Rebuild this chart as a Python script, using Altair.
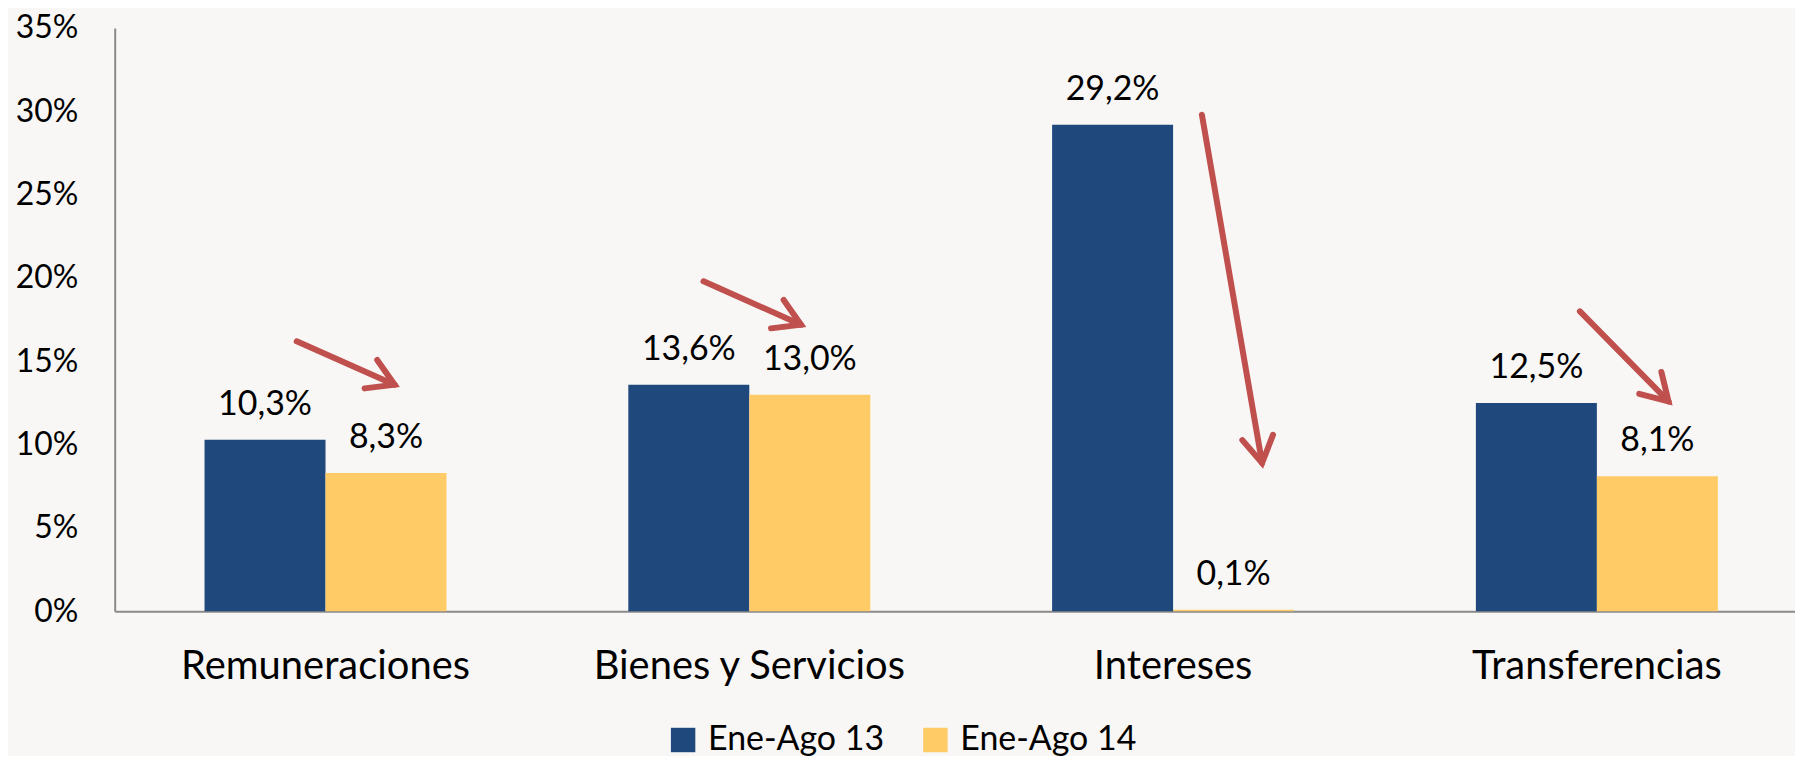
import math
import altair as alt
import pandas as pd

# ---- data ----
categories = ["Remuneraciones", "Bienes y Servicios", "Intereses", "Transferencias"]
series = ["Ene-Ago 13", "Ene-Ago 14"]
values_13 = [10.3, 13.6, 29.2, 12.5]
values_14 = [8.3, 13.0, 0.1, 8.1]
y_ticks = [0, 0.05, 0.10, 0.15, 0.20, 0.25, 0.30, 0.35]

# annotation arrows: x in category units (0 = centre of first group), y in percent
arrow_x0 = [-0.068, 0.892, 2.068, 2.960]
arrow_y0 = [16.2, 19.8, 29.8, 18.0]
arrow_x1 = [0.163, 1.122, 2.210, 3.169]
arrow_y1 = [13.6, 17.2, 8.9, 12.6]

# ---- layout ----
W, H = 1685, 585
PAD_L, PAD_T, PAD_R = 107, 19, 0
PAD_B = 748 - PAD_T - H
P_IN, P_OUT, ALIGN = 0.429, 0.197, 0.538
FONT = "Lato"
BLUE, YELLOW, RED = "#1F497D", "#FFCB66", "#C0504D"

n = len(categories)
step = W / (n - P_IN + 2 * P_OUT)
first_center = (W - step * (n - P_IN)) * ALIGN + step * (1 - P_IN) / 2
q_domain = [-first_center / step, (W - first_center) / step]

rows = []
for s, vals in zip(series, [values_13, values_14]):
    for c, v in zip(categories, vals):
        rows.append({"cat": c, "serie": s, "value": v / 100.0,
                     "label": f"{v:.1f}".replace(".", ",") + "%"})
bars_df = pd.DataFrame(rows)

px_y = H / 35.0
arrows_df = pd.DataFrame({
    "x0": arrow_x0, "value": [v / 100 for v in arrow_y0],
    "x1": arrow_x1, "value_end": [v / 100 for v in arrow_y1],
})
arrows_df["angle"] = [
    math.degrees(math.atan2((a - b) * px_y, (d - c) * step)) % 360
    for a, b, c, d in zip(arrow_y0, arrow_y1, arrow_x0, arrow_x1)
]

y_scale = alt.Scale(domain=[0, 0.35], nice=False, zero=True)
band_scale = alt.Scale(paddingInner=P_IN, paddingOuter=P_OUT, align=ALIGN)
y_axis = alt.Axis(title=None, orient="left", values=y_ticks, format=".0%",
                  ticks=False, grid=False, labelPadding=37, labelFontSize=32,
                  labelFont=FONT, labelColor="#000000",
                  domainColor="#8a8a8a", domainWidth=2)

x_band = alt.X("cat:N", sort=categories, scale=band_scale,
               axis=alt.Axis(title=None, orient="bottom", labelAngle=0, ticks=False,
                             grid=False, labelPadding=35, labelFontSize=40,
                             labelFont=FONT, labelColor="#000000", labelLimit=600,
                             domainColor="#8a8a8a", domainWidth=2))
y_q = alt.Y("value:Q", scale=y_scale, axis=y_axis)
x_off = alt.XOffset("serie:N", sort=series, scale=alt.Scale(paddingInner=0, paddingOuter=0))

bars = alt.Chart(bars_df).mark_bar().encode(
    x=x_band, y=y_q, xOffset=x_off,
    color=alt.Color("serie:N", sort=series,
                    scale=alt.Scale(domain=series, range=[BLUE, YELLOW]),
                    legend=alt.Legend(title=None, orient="none", direction="horizontal",
                                      legendX=553, legendY=697, symbolType="square",
                                      symbolSize=600, symbolStrokeWidth=0,
                                      labelFontSize=34, labelFont=FONT, labelLimit=400,
                                      labelColor="#000000", columnPadding=34,
                                      labelOffset=8, padding=0)),
)

labels = alt.Chart(bars_df).mark_text(
    baseline="middle", dy=-35, fontSize=34, font=FONT, color="#000000"
).encode(x=alt.X("cat:N", sort=categories, scale=band_scale, axis=None),
         y=y_q, xOffset=x_off, text="label:N")

xq = alt.Scale(domain=q_domain, nice=False, zero=False)
shafts = alt.Chart(arrows_df).mark_rule(
    color=RED, strokeWidth=6, strokeCap="round"
).encode(
    x=alt.X("x0:Q", scale=xq, axis=None), x2="x1:Q",
    y=y_q, y2="value_end:Q",
)
heads = alt.Chart(arrows_df).mark_point(
    shape="M -1 -0.6 L 0 0 L -1 0.6", filled=False, stroke=RED, strokeWidth=6,
    strokeCap="round", strokeJoin="miter", size=2700, opacity=1
).encode(
    x=alt.X("x1:Q", scale=xq, axis=None),
    y=alt.Y("value_end:Q", scale=y_scale, axis=y_axis),
    angle=alt.Angle("angle:Q", scale=None),
)

chart = alt.layer(bars, labels, shafts, heads).resolve_scale(
    x="independent"
).properties(
    width=W, height=H,
    autosize=alt.AutoSizeParams(type="none"),
    padding={"left": PAD_L, "top": PAD_T, "right": PAD_R, "bottom": PAD_B},
    background="#f8f7f5",
).configure_view(strokeWidth=0, clip=False)

chart.save("out.html", embed_options={"renderer": "svg", "actions": False})
